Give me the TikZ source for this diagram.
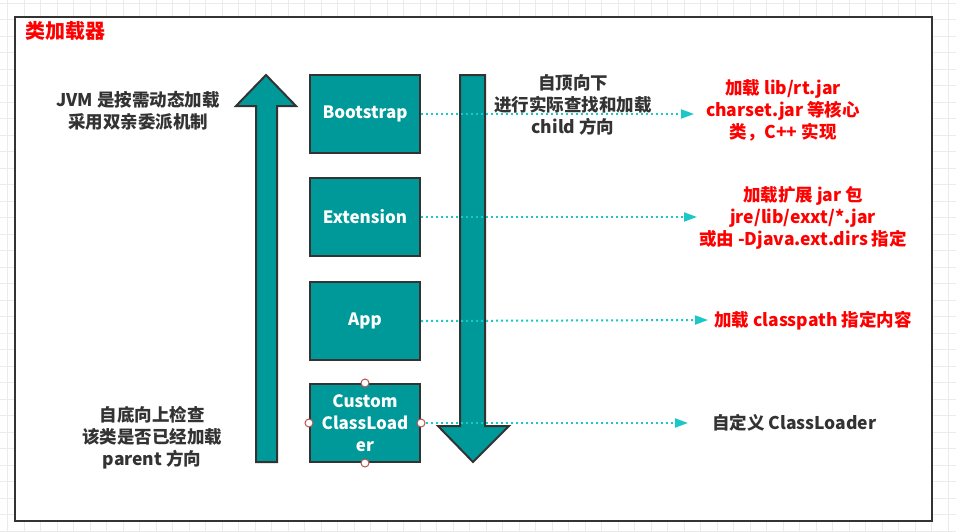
\documentclass[tikz,border=0pt]{standalone}
\usepackage{fontspec}
\setmainfont{Noto Sans CJK SC}
\usetikzlibrary{arrows.meta}
\definecolor{teal1}{HTML}{009999}
\definecolor{edge}{HTML}{333333}
\definecolor{cyanl}{HTML}{1CC7C7}
\definecolor{txt}{HTML}{333333}
\definecolor{redt}{HTML}{FF0000}
\definecolor{gridc}{HTML}{EBEBEB}
\definecolor{handle}{HTML}{B85450}
\tikzset{
  loader/.style={draw=edge, line width=2pt, fill=teal1, minimum width=110pt, minimum height=78pt, inner sep=0pt,
    text=white, font=\fontsize{17}{22}\selectfont\bfseries, align=center},
  bigarrow/.style={draw=edge, line width=2pt, fill=teal1, line join=miter},
  note/.style={text=txt, font=\fontsize{17.5}{22}\selectfont\bfseries, align=center, inner sep=0pt},
  rednote/.style={text=redt, font=\fontsize{17.5}{22}\selectfont\bfseries, align=center, inner sep=0pt},
  link/.style={draw=cyanl, line width=2pt, dash pattern=on 2pt off 3pt, -{Triangle[length=13pt,width=9pt,fill=cyanl]}},
  hdl/.style={circle, draw=handle, fill=white, line width=1pt, minimum size=8pt, inner sep=0pt}
}
\begin{document}
\begin{tikzpicture}[x=1pt,y=-1pt]
\useasboundingbox (0,0) rectangle (956,531);
% canvas grid
\foreach \i in {0,...,57} { \draw[gridc, line width=0.8pt] ({7.5+16.5*\i},0) -- ({7.5+16.5*\i},531); }
\foreach \j in {0,...,32} { \draw[gridc, line width=0.8pt] (0,{3+16.5*\j}) -- (956,{3+16.5*\j}); }
% frame
\draw[edge, line width=2pt, fill=white] (15,17) rectangle (932,521);
\node[text=redt, font=\fontsize{20}{22}\selectfont\bfseries, anchor=west, inner sep=0pt] (title) at (25,31) {类加载器};

% up arrow
\draw[bigarrow] (256,462) -- (256,106) -- (236,106) -- (266,75) -- (296,106) -- (277,106) -- (277,462) -- cycle;
% down arrow
\draw[bigarrow] (460,75) -- (485,75) -- (485,426) -- (509,426) -- (473,462) -- (438,426) -- (460,426) -- cycle;

% loaders
\node[loader] (boot) at (365,114) {Bootstrap};
\node[loader] (ext) at (365,217) {Extension};
\node[loader] (app) at (365,321) {App};
\node[loader] (cust) at (365,423) {Custom\\ClassLoad\\er};

% texts
\node[note] (jvm) at (138,111) {JVM 是按需动态加载\\采用双亲委派机制};
\node[note] (up) at (152,438) {自底向上检查\\该类是否已经加载\\parent 方向};
\node[note] (down) at (573,105) {自顶向下\\进行实际查找和加载\\child 方向};

\node[rednote] (bootd) at (783,110) {加载 lib/rt.jar\\charset.jar 等核心\\类，C++ 实现};
\node[rednote] (extd) at (803,218) {加载扩展 jar 包\\jre/lib/exxt/*.jar\\或由 -Djava.ext.dirs 指定};
\node[rednote, anchor=west] (appd) at (714,321) {加载 classpath 指定内容};
\node[note, anchor=west] (custd) at (712,423) {自定义 ClassLoader};

% connectors
\coordinate (e1) at (694,114);
\coordinate (e2) at (697,217);
\coordinate (e3) at (708,320);
\coordinate (e4) at (688,423);
\draw[link] (boot.east) -- (e1);
\draw[link] (ext.east) -- (e2);
\draw[link] (app.east) -- (e3);
\draw[link] (cust.east) -- (e4);

% selection handles
\node[hdl] (h1) at (cust.north) {};
\node[hdl] (h2) at (cust.south) {};
\node[hdl] (h3) at (cust.west) {};
\node[hdl] (h4) at (cust.east) {};
\end{tikzpicture}
\end{document}
